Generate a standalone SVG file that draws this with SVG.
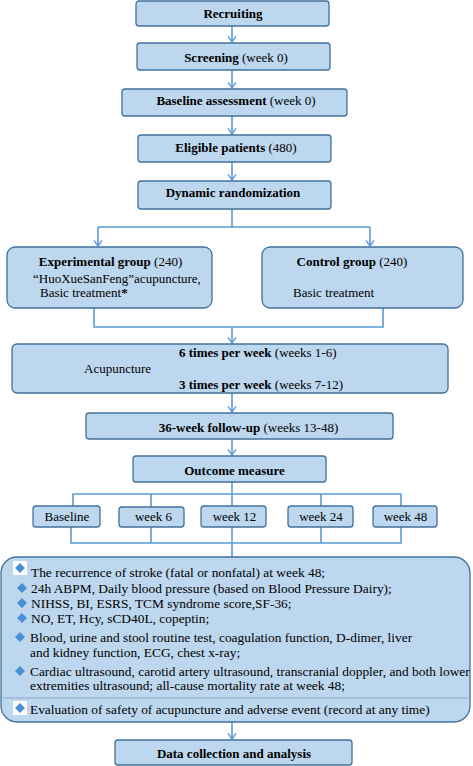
<svg xmlns="http://www.w3.org/2000/svg" width="473" height="766" viewBox="0 0 473 766" font-family="'Liberation Serif', 'Times New Roman', serif" font-size="13">
<style>
.box{fill:#bdd7ee;stroke:#41719c;stroke-width:1.3}
.con{fill:none;stroke:#5b9bd5;stroke-width:1.6}
.arr{marker-end:url(#arr)}
.b{font-weight:bold}
.c{text-anchor:middle}
.dia{fill:#4a8fd2}
.m{font-size:13.4px}
</style>
<defs>
<marker id="arr" viewBox="0 0 10 12" markerWidth="8" markerHeight="10" refX="9" refY="6" orient="auto" markerUnits="userSpaceOnUse">
<path d="M2,1 L9,6 L2,11" fill="none" stroke="#5b9bd5" stroke-width="1.8"/>
</marker>
<path id="diamond" class="dia" d="M0,-5 L5,0 L0,5 L-5,0 Z"/>
</defs>
<rect width="473" height="766" fill="#fff"/>

<g id="connectors">
<line class="con arr" x1="232" y1="26" x2="232" y2="42"/>
<line class="con arr" x1="232" y1="70" x2="232" y2="88"/>
<line class="con arr" x1="232" y1="116" x2="232" y2="134"/>
<line class="con arr" x1="232" y1="162" x2="232" y2="180"/>
<path class="con" d="M232,209 V227 M98,227 H370"/>
<line class="con arr" x1="98" y1="227" x2="98" y2="246"/>
<line class="con arr" x1="370" y1="227" x2="370" y2="246"/>
<path class="con" d="M94,308 V327 H383 V308"/>
<line class="con arr" x1="232" y1="327" x2="232" y2="343"/>
<line class="con arr" x1="232" y1="393" x2="232" y2="412"/>
<line class="con arr" x1="232" y1="439" x2="232" y2="455"/>
<path class="con" d="M232,482 V494 M73,506 V494 H401 V506 M151,494 V507 M232,494 V506 M321,494 V506"/>
<path class="con" d="M71,527 V543 H401 V527 M151,527 V543 M232,527 V557 M321,527 V543"/>
<line class="con arr" x1="232" y1="722" x2="232" y2="739"/>
</g>

<g id="recruiting">
<rect class="box" x="136" y="1" width="193" height="25" rx="3"/>
<text class="c b" x="233" y="18">Recruiting</text>
</g>
<g id="screening">
<rect class="box" x="137" y="43" width="193" height="27" rx="3"/>
<text class="c" x="236" y="62"><tspan class="b">Screening</tspan> (week 0)</text>
</g>
<g id="baseline-assessment">
<rect class="box" x="122" y="89" width="225" height="27" rx="3"/>
<text class="c" x="236" y="105"><tspan class="b">Baseline assessment</tspan> (week 0)</text>
</g>
<g id="eligible">
<rect class="box" x="138" y="135" width="193" height="27" rx="3"/>
<text class="c" x="236" y="152"><tspan class="b">Eligible patients</tspan> (480)</text>
</g>
<g id="randomization">
<rect class="box" x="138" y="181" width="193" height="28" rx="3"/>
<text class="c b" x="233" y="197">Dynamic randomization</text>
</g>
<g id="experimental">
<rect class="box" x="7" y="247" width="205" height="61" rx="8"/>
<text class="c" x="110.5" y="266"><tspan class="b">Experimental group</tspan> (240)</text>
<text x="33" y="283">“HuoXueSanFeng”acupuncture,</text>
<text x="40" y="297">Basic treatment<tspan class="b">*</tspan></text>
</g>
<g id="control">
<rect class="box" x="262" y="247" width="201" height="61" rx="8"/>
<text class="c" x="352" y="266"><tspan class="b">Control group</tspan> (240)</text>
<text x="293" y="297">Basic treatment</text>
</g>
<g id="acupuncture">
<rect class="box" x="12" y="344" width="436" height="49" rx="5"/>
<text x="179" y="357"><tspan class="b">6 times per week</tspan> (weeks 1-6)</text>
<text x="84" y="373">Acupuncture</text>
<text x="179" y="389"><tspan class="b">3 times per week</tspan> (weeks 7-12)</text>
</g>
<g id="follow-up">
<rect class="box" x="86" y="413" width="307" height="26" rx="3"/>
<text class="c" x="248.5" y="432"><tspan class="b">36-week follow-up</tspan> (weeks 13-48)</text>
</g>
<g id="outcome">
<rect class="box" x="133" y="456" width="193" height="26" rx="3"/>
<text class="c b" x="234.5" y="475">Outcome measure</text>
</g>
<g id="t-baseline">
<rect class="box" x="33" y="506" width="67" height="21" rx="3"/>
<text class="c" x="67" y="521">Baseline</text>
</g>
<g id="t-week6">
<rect class="box" x="119" y="507" width="65" height="20" rx="3"/>
<text class="c" x="153.5" y="521">week 6</text>
</g>
<g id="t-week12">
<rect class="box" x="201" y="506" width="65" height="21" rx="3"/>
<text class="c" x="234.5" y="521">week 12</text>
</g>
<g id="t-week24">
<rect class="box" x="288" y="506" width="65" height="21" rx="3"/>
<text class="c" x="321" y="521">week 24</text>
</g>
<g id="t-week48">
<rect class="box" x="373" y="506" width="64" height="21" rx="3"/>
<text class="c" x="405.5" y="521">week 48</text>
</g>
<g id="measures">
<rect class="box" x="1" y="557" width="469" height="165" rx="16"/>
<line x1="3" y1="698" x2="468" y2="698" stroke="#8aa6c2" stroke-width="1"/>
<rect x="13" y="561" width="14" height="14" fill="#fff"/>
<use href="#diamond" x="20" y="568"/>
<use href="#diamond" x="22" y="588"/>
<use href="#diamond" x="22" y="603"/>
<use href="#diamond" x="22" y="618"/>
<use href="#diamond" x="20" y="637"/>
<use href="#diamond" x="20" y="671"/>
<rect x="13" y="701" width="14" height="14" fill="#fff"/>
<use href="#diamond" x="20" y="708"/>
<text class="m" x="31" y="577">The recurrence of stroke (fatal or nonfatal) at week 48;</text>
<text class="m" x="31" y="593">24h ABPM, Daily blood pressure (based on Blood Pressure Dairy);</text>
<text class="m" x="31" y="608">NIHSS, BI, ESRS, TCM syndrome score,SF-36;</text>
<text class="m" x="31" y="623">NO, ET, Hcy, sCD40L, copeptin;</text>
<text class="m" x="30" y="642">Blood, urine and stool routine test, coagulation function, D-dimer, liver</text>
<text class="m" x="30" y="657">and kidney function, ECG, chest x-ray;</text>
<text class="m" x="30" y="676">Cardiac ultrasound, carotid artery ultrasound, transcranial doppler, and both lower</text>
<text class="m" x="30" y="690">extremities ultrasound; all-cause mortality rate at week 48;</text>
<text class="m" x="30" y="714">Evaluation of safety of acupuncture and adverse event (record at any time)</text>
</g>
<g id="data-collection">
<rect class="box" x="115" y="740" width="237" height="25" rx="3"/>
<text class="c b" x="234" y="758">Data collection and analysis</text>
</g>
</svg>
